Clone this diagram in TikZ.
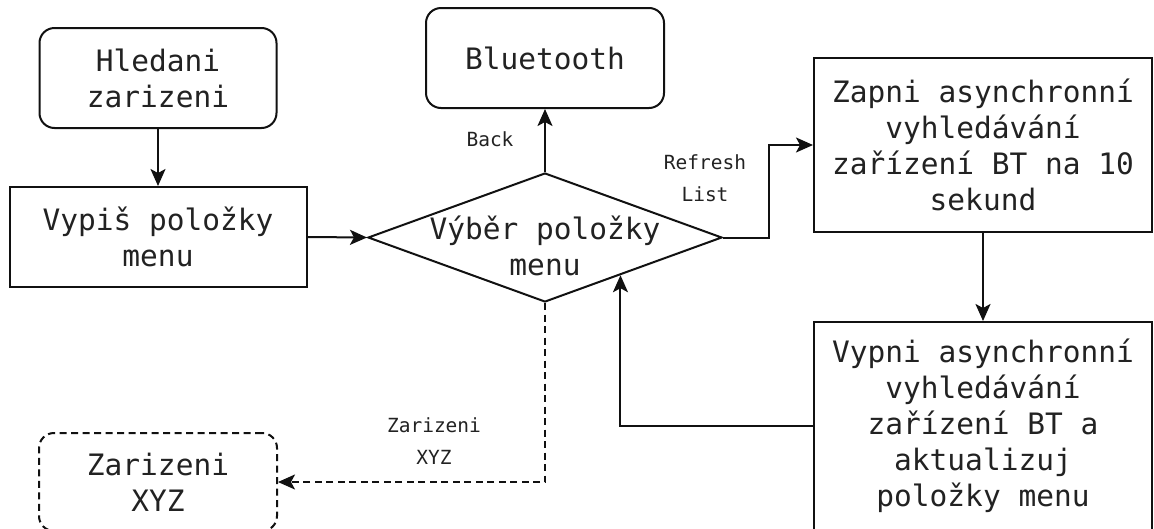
\documentclass[tikz,border=0pt]{standalone}
\usepackage{fontspec}
\setmonofont{DejaVu Sans Mono}
\usetikzlibrary{shapes.geometric,arrows.meta,calc}

\newcommand\bigtxt{\ttfamily\fontsize{29.5}{36}\selectfont}
\newcommand\smalltxt{\ttfamily\fontsize{19.5}{32}\selectfont}
\definecolor{txt}{HTML}{222222}
\definecolor{ln}{HTML}{111111}

\begin{document}
\begin{tikzpicture}[x=1pt,y=-1pt,
  box/.style={draw=ln, line width=2pt, align=center, font=\bigtxt, text=txt, inner sep=0pt},
  rbox/.style={box, rounded corners=15pt},
  lbl/.style={font=\smalltxt, text=txt, align=center, inner sep=0pt},
  arr/.style={draw=ln, line width=2pt, -{Stealth[length=17pt,width=15pt,inset=4pt]}},
  dashline/.style={dash pattern=on 7pt off 4.5pt}]

  \fill[white] (0,0) rectangle (1154,528);
  \useasboundingbox (0,0) rectangle (1154,528);

  % boxes
  \node[rbox, minimum width=237pt, minimum height=100pt] (hled) at (158,78) {Hledani\\zarizeni};
  \node[box, minimum width=297pt, minimum height=100pt] (vyp) at (158,237) {Vypiš položky\\menu};
  \node[rbox, minimum width=238pt, minimum height=100pt] (bt) at (545,58) {Bluetooth};
  \node[diamond, draw=ln, line width=2pt, minimum width=354pt, minimum height=129pt, inner sep=0pt] (sel) at (545,237.5) {};
  \node[font=\bigtxt, text=txt, align=center, inner sep=0pt] (seltxt) at (545,246) {Výběr položky\\menu};
  \node[box, minimum width=338pt, minimum height=174pt] (zap) at (983,145)
    {Zapni asynchronní\\vyhledávání\\zařízení BT na 10\\sekund};
  \node[box, minimum width=338pt, minimum height=208pt] (vyp2) at (983,426)
    {Vypni asynchronní\\vyhledávání\\zařízení BT a\\aktualizuj\\položky menu};
  \node[rbox, dashline, minimum width=238pt, minimum height=98pt] (xyz) at (158,482) {Zarizeni\\XYZ};

  % edge labels
  \node[lbl] (lback) at (490,139) {Back};
  \node[lbl] (lref) at (705,178.5) {Refresh\\List};
  \node[lbl] (lxyz) at (434,441) {Zarizeni\\XYZ};

  % connectors
  \draw[arr] (hled.south) -- (vyp.north);
  \draw[arr] (vyp.east) -- (sel.west);
  \draw[arr] (sel.north) -- (bt.south);
  \draw[arr] (sel.east) -- ++(46,0) |- (zap.west);
  \draw[arr] (zap.south) -- (vyp2.north);
  \coordinate (ret) at ($(sel.east)!0.576!(sel.south)$);
  \draw[arr] (vyp2.west) -| (ret);
  \draw[arr, dashline] (sel.south) |- (xyz.east);
\end{tikzpicture}
\end{document}
